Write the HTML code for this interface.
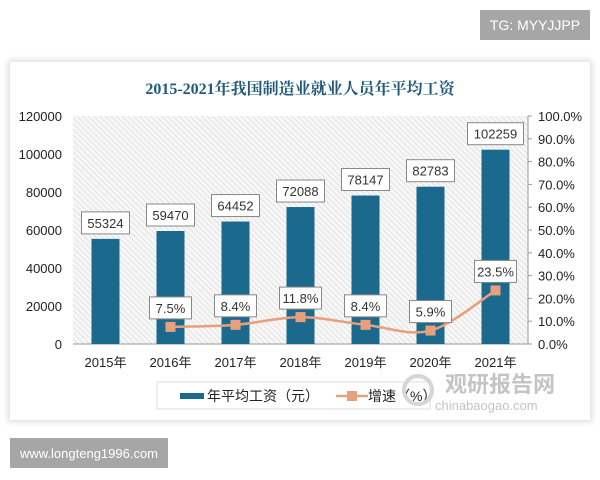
<!DOCTYPE html>
<html><head><meta charset="utf-8">
<style>
body{margin:0;width:600px;height:480px;background:#fff;position:relative;overflow:hidden;font-family:"Liberation Sans","Noto Sans CJK SC",sans-serif;}
#card{position:absolute;left:10px;top:62px;width:580px;height:358px;background:#fff;box-shadow:0 0 6px 2px #ddd;}
.badge{position:absolute;background:#a6a6a6;color:#fff;font-size:14px;display:flex;align-items:center;justify-content:center;}
</style></head><body>
<div class="badge" style="left:480px;top:10px;width:110px;height:30px;">TG: MYYJJPP</div>
<div class="badge" style="left:10px;top:438px;width:158px;height:30px;font-size:13px;">www.longteng1996.com</div>
<div id="card"></div>
<svg id="chart" width="600" height="480" style="position:absolute;left:0;top:0">
<defs><pattern id="hatch" width="4" height="4" patternUnits="userSpaceOnUse" patternTransform="rotate(-45)"><rect width="4" height="4" fill="#f7f7f7"/><line x1="0" y1="0" x2="0" y2="4" stroke="#cfcfcf" stroke-width="1"/></pattern></defs>
</svg>
<script>
const years=["2015年","2016年","2017年","2018年","2019年","2020年","2021年"];
const wages=[55324,59470,64452,72088,78147,82783,102259];
const growth=[null,7.5,8.4,11.8,8.4,5.9,23.5];
const leftTicks=[0,20000,40000,60000,80000,100000,120000];
const rightTicks=[0,10,20,30,40,50,60,70,80,90,100];
const svg=document.getElementById('chart');
const NS='http://www.w3.org/2000/svg';
const X0=73,X1=528,YT=116,YB=344;
const band=(X1-X0)/years.length;
const xc=i=>X0+band*(i+0.5);
const yL=v=>YB-(v/120000)*(YB-YT);
const yR=v=>YB-(v/100)*(YB-YT);
function mk(t,a,p){const e=document.createElementNS(NS,t);for(const k in a)e.setAttribute(k,a[k]);(p||svg).appendChild(e);return e;}
let t=mk('text',{x:300,y:94,'text-anchor':'middle','font-size':16,'font-weight':'bold',fill:'#1f5a7a','font-family':'"Liberation Serif","Noto Serif CJK SC",serif'});
t.textContent='2015-2021年我国制造业就业人员年平均工资';


let bg=mk('rect',{x:X0,y:YT,width:X1-X0,height:YB-YT,fill:'url(#hatch)'});


mk('line',{x1:X1,y1:YT,x2:X1,y2:YB,stroke:'#999'});
mk('line',{x1:X0,y1:YB,x2:X1,y2:YB,stroke:'#999'});
leftTicks.forEach(v=>{const e=mk('text',{x:62,y:yL(v)+5,'text-anchor':'end','font-size':13,fill:'#222'});e.textContent=v;

});
rightTicks.forEach(v=>{mk('line',{x1:X1,y1:yR(v),x2:X1+4,y2:yR(v),stroke:'#999'});const e=mk('text',{x:538,y:yR(v)+5,'font-size':13,fill:'#222'});e.textContent=v.toFixed(1)+'%';

});
years.forEach((y,i)=>{const e=mk('text',{x:xc(i),y:367,'text-anchor':'middle','font-size':13,fill:'#222'});e.textContent=y;

});
function label(cx,cy,txt,w){mk('rect',{x:cx-w/2,y:cy-11,width:w,height:22,fill:'#fff',stroke:'#888'});const e=mk('text',{x:cx,y:cy+5,'text-anchor':'middle','font-size':13,fill:'#333'});e.textContent=txt;

}
wages.forEach((v,i)=>{const b=mk('rect',{x:xc(i)-14,y:yL(v),width:28,height:YB-yL(v),fill:'#1b6a8e'});


label(xc(i),yL(v)-16,String(v),v>=100000?56:48);});
const pts=[];growth.forEach((v,i)=>{if(v!==null)pts.push([xc(i),yR(v)]);});
let d='M'+pts[0][0]+','+pts[0][1];
for(let i=0;i<pts.length-1;i++){const p0=pts[i-1]||pts[i],p1=pts[i],p2=pts[i+1],p3=pts[i+2]||p2;
d+=` C${p1[0]+(p2[0]-p0[0])/6},${p1[1]+(p2[1]-p0[1])/6} ${p2[0]-(p3[0]-p1[0])/6},${p2[1]-(p3[1]-p1[1])/6} ${p2[0]},${p2[1]}`;}
const ln=mk('path',{d:d,fill:'none',stroke:'#e8a07c','stroke-width':2.5});


growth.forEach((v,i)=>{if(v===null)return;const m=mk('rect',{x:xc(i)-5,y:yR(v)-5,width:10,height:10,fill:'#e8a07c'});


label(xc(i),yR(v)-19,v.toFixed(1)+'%',42);});
const lg=mk('rect',{x:157,y:382,width:273,height:27,fill:'#fff',stroke:'#ddd'});


mk('rect',{x:180,y:393,width:24,height:6,fill:'#1b6a8e'});
let l1=mk('text',{x:207,y:401,'font-size':14,fill:'#222'});l1.textContent='年平均工资（元）';


mk('line',{x1:336,y1:396,x2:368,y2:396,stroke:'#e8a07c','stroke-width':2.5});
mk('rect',{x:347,y:391,width:10,height:10,fill:'#e8a07c'});
let l2=mk('text',{x:368,y:401,'font-size':14,fill:'#222'});l2.textContent='增速（%）';


let w1=mk('text',{x:445,y:392,'font-size':22,'font-weight':'bold',fill:'#c4c4c4'});w1.textContent='观研报告网';


let w2=mk('text',{x:435,y:410,'font-size':13,fill:'#c4c4c4'});w2.textContent='chinabaogao.com';


mk('circle',{cx:418,cy:390,r:14,fill:'none',stroke:'#d6d6d6','stroke-width':4});
</script>
</body></html>
